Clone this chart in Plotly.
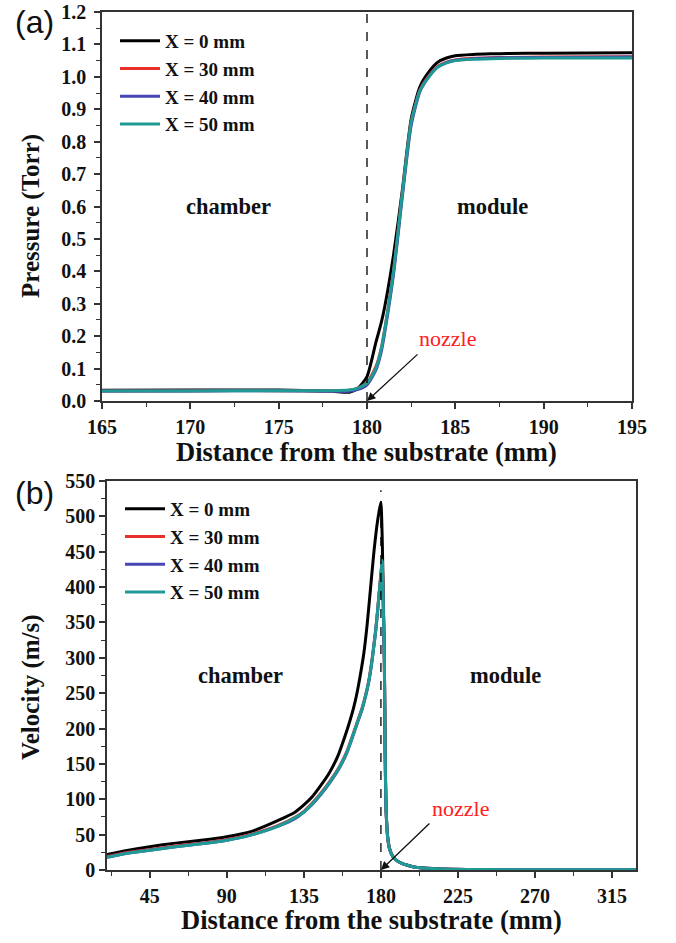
import plotly.graph_objects as go

# ---------------- data ----------------
series_names = ["X = 0 mm", "X = 30 mm", "X = 40 mm", "X = 50 mm"]
series_colors = ["#000000", "#e8302a", "#4646b4", "#1f9a94"]

# (a) pressure
dist_p = [165, 170, 175, 178, 179, 179.5, 180, 180.5, 180.8, 181, 181.5, 182, 182.5, 183, 183.5, 184, 184.5, 185, 186, 187, 188, 190, 195]
p_x0 = [0.033, 0.034, 0.034, 0.030, 0.027, 0.040, 0.075, 0.18, 0.24, 0.29, 0.45, 0.65, 0.87, 0.97, 1.015, 1.045, 1.058, 1.065, 1.069, 1.071, 1.072, 1.073, 1.074]
p_x30 = [0.031, 0.032, 0.032, 0.031, 0.033, 0.040, 0.057, 0.105, 0.16, 0.22, 0.40, 0.64, 0.86, 0.960, 1.003, 1.032, 1.045, 1.052, 1.057, 1.059, 1.060, 1.061, 1.062]
p_x40 = [0.031, 0.031, 0.032, 0.030, 0.030, 0.036, 0.050, 0.095, 0.15, 0.21, 0.39, 0.63, 0.85, 0.955, 1.000, 1.030, 1.044, 1.051, 1.056, 1.058, 1.059, 1.060, 1.061]
p_x50 = [0.031, 0.031, 0.032, 0.032, 0.034, 0.040, 0.055, 0.100, 0.16, 0.22, 0.40, 0.64, 0.86, 0.958, 1.000, 1.030, 1.043, 1.050, 1.054, 1.056, 1.057, 1.058, 1.058]

# (b) velocity
dist_v0 = [20, 30, 45, 60, 75, 90, 105, 120, 130, 135, 140, 145, 150, 155, 158, 161, 164, 166, 168, 170, 172, 174, 176, 177.5, 179, 180, 180.7, 181.3, 182, 182.5, 183, 184, 185, 187, 190, 195, 200, 210, 220, 240, 270, 300, 329]
v_x0 = [22, 27, 33, 38, 42, 47, 55, 70, 82, 92, 104, 120, 138, 162, 182, 204, 229, 250, 276, 306, 348, 400, 452, 484, 508, 520, 475, 400, 300, 165, 88, 46, 31, 19, 12, 7, 4, 2, 1, 0.6, 0.4, 0.3, 0.3]
dist_v = [20, 30, 45, 60, 75, 90, 105, 120, 130, 135, 140, 145, 150, 155, 160, 163, 166, 169, 171, 173, 175, 177, 178, 179, 180, 180.7, 181.3, 182, 182.5, 183, 184, 185, 187, 190, 195, 200, 210, 220, 240, 270, 300, 329]
v_x30 = [19, 24, 29, 34, 38, 43, 51, 63, 75, 83, 95, 109, 125, 143, 167, 187, 208, 229, 247, 269, 301, 341, 366, 393, 419, 437, 385, 298, 162, 86, 45, 30, 19, 12, 7, 4, 2, 1, 0.6, 0.4, 0.3, 0.3]
v_x40 = [18, 23, 28, 33, 37, 42, 50, 62, 73, 82, 93, 107, 123, 141, 165, 185, 206, 227, 245, 267, 299, 339, 364, 391, 417, 436, 383, 296, 161, 85, 45, 30, 19, 12, 7, 4, 2, 1, 0.6, 0.4, 0.3, 0.3]
v_x50 = [18, 23, 28, 33, 37, 42, 50, 62, 74, 82, 94, 108, 124, 142, 166, 186, 207, 228, 246, 268, 300, 340, 365, 392, 418, 438, 384, 297, 160, 85, 45, 30, 19, 12, 7, 4, 2, 1, 0.6, 0.4, 0.3, 0.3]

p_series = [p_x0, p_x30, p_x40, p_x50]
v_dists = [dist_v0, dist_v, dist_v, dist_v]
v_series = [v_x0, v_x30, v_x40, v_x50]

p_xticks = [165, 170, 175, 180, 185, 190, 195]
v_xticks = [45, 90, 135, 180, 225, 270, 315]
nozzle_pos = 180

# ---------------- figure ----------------
W, H = 676, 943
def px(x):
    return x / W
def py(y):
    return 1 - y / H

fig = go.Figure()
for name, col, ys in zip(series_names, series_colors, p_series):
    fig.add_trace(go.Scatter(x=dist_p, y=ys, mode="lines", name=name,
                             line=dict(color=col, width=3, shape="spline", smoothing=0.6),
                             xaxis="x", yaxis="y", legend="legend"))
for name, col, xs, ys in zip(series_names, series_colors, v_dists, v_series):
    fig.add_trace(go.Scatter(x=xs, y=ys, mode="lines", name=name,
                             line=dict(color=col, width=3, shape="spline", smoothing=0.5),
                             xaxis="x2", yaxis="y2", legend="legend2"))

SERIF = "Liberation Serif, Times New Roman, serif"
tickfont = dict(family=SERIF, size=20, color="#111", weight="bold")

axis_common = dict(showline=True, linecolor="#333", linewidth=1.5, mirror=True,
                   ticks="outside", ticklen=6, tickwidth=1.5, tickcolor="#333",
                   showgrid=False, zeroline=False, tickfont=tickfont, automargin=False,
                   ticklabeloverflow="allow")
minor_common = dict(ticks="outside", ticklen=4, tickwidth=1.2, tickcolor="#333")
legfont = dict(family=SERIF, size=19, color="#111", weight="bold")

fig.update_layout(
    width=W, height=H, margin=dict(l=0, r=0, t=0, b=0),
    paper_bgcolor="white", plot_bgcolor="white",
    xaxis=dict(domain=[px(102), px(632)], anchor="y", range=[165, 195],
               tickvals=p_xticks, ticklabelstandoff=1,
               minor=dict(dtick=2.5, tick0=165, **minor_common), **axis_common),
    yaxis=dict(domain=[py(401), py(12)], anchor="x", range=[0, 1.2], dtick=0.1,
               tickformat=".1f", ticklabelstandoff=4,
               minor=dict(dtick=0.05, **minor_common), **axis_common),
    xaxis2=dict(domain=[px(107), px(636)], anchor="y2", range=[20, 329],
                tickvals=v_xticks, ticklabelstandoff=1,
                minor=dict(dtick=22.5, tick0=0, **minor_common), **axis_common),
    yaxis2=dict(domain=[py(870), py(481)], anchor="x2", range=[0, 550], dtick=50,
                ticklabelstandoff=0,
                minor=dict(dtick=25, **minor_common), **axis_common),
    legend=dict(x=px(115), y=py(22), xanchor="left", yanchor="top",
                bgcolor="rgba(0,0,0,0)", font=legfont, tracegroupgap=0, itemwidth=40),
    legend2=dict(x=px(120), y=py(490), xanchor="left", yanchor="top",
                 bgcolor="rgba(0,0,0,0)", font=legfont, tracegroupgap=0, itemwidth=40),
    showlegend=True,
)

# dashed nozzle lines
fig.add_shape(type="line", xref="x", yref="y", x0=nozzle_pos, x1=nozzle_pos, y0=0, y1=1.2,
              line=dict(color="black", width=1.3, dash="dash"))
fig.add_shape(type="line", xref="x2", yref="y2", x0=nozzle_pos, x1=nozzle_pos, y0=0, y1=537,
              line=dict(color="black", width=1.3, dash="dash"))

ann = []
def text(x, y, s, size=21, color="#111", bold=True, family=SERIF, angle=0):
    ann.append(dict(x=px(x), y=py(y), xref="paper", yref="paper", text=s, showarrow=False,
                    xanchor="center", yanchor="middle", textangle=angle,
                    font=dict(family=family, size=size, color=color, weight="bold" if bold else "normal")))

# panel labels
text(34, 22, "(a)", size=32, bold=False, family="Liberation Sans, Arial, sans-serif")
text(34, 493, "(b)", size=32, bold=False, family="Liberation Sans, Arial, sans-serif")
# axis titles
text(366, 452, "Distance from the substrate (mm)", size=26.5)
text(371, 920, "Distance from the substrate (mm)", size=26.5)
text(31, 216, "Pressure (Torr)", size=25, angle=-90)
text(31, 687, "Velocity (m/s)", size=25, angle=-90)
# region labels
text(228, 206, "chamber", size=22.5)
text(492, 206, "module", size=22.5)
text(240, 675, "chamber", size=22.5)
text(505, 675, "module", size=22.5)
# nozzle
text(447, 338, "nozzle", size=22, color="#ff2020", bold=False)
text(460, 808, "nozzle", size=22, color="#ff2020", bold=False)
ann.append(dict(x=nozzle_pos, y=0, xref="x", yref="y", ax=52, ay=-48, text="", showarrow=True,
                arrowhead=2, arrowsize=1.3, arrowwidth=1.3, arrowcolor="#111", standoff=0))
ann.append(dict(x=nozzle_pos, y=0, xref="x2", yref="y2", ax=50, ay=-48, text="", showarrow=True,
                arrowhead=2, arrowsize=1.3, arrowwidth=1.3, arrowcolor="#111", standoff=0))
fig.update_layout(annotations=ann)

fig.write_html("out.html", config={"displayModeBar": False},
               post_script="document.body.style.margin='0px';document.body.style.overflow='hidden';")
